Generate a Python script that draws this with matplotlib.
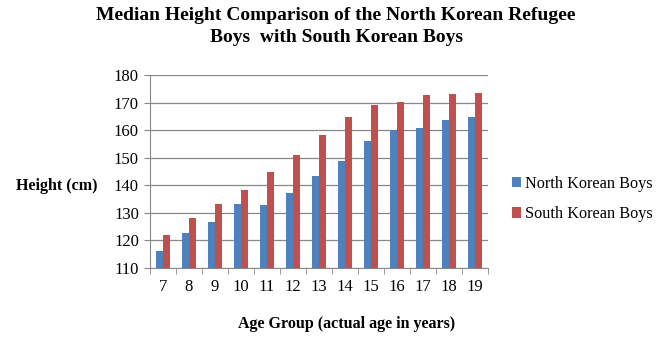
import matplotlib
matplotlib.use('Agg')
import matplotlib.pyplot as plt
import numpy as np


ages = ['7', '8', '9', '10', '11', '12', '13', '14', '15', '16', '17', '18', '19']
north_korean = [116.0, 122.8, 126.8, 133.3, 132.9, 137.3, 143.4, 148.7, 156.2, 160.1, 160.6, 163.5, 164.8]
south_korean = [122.1, 128.0, 133.3, 138.2, 144.9, 150.9, 158.3, 164.8, 169.3, 170.2, 172.7, 173.0, 173.4]

plt.rcParams['font.family'] = ['Liberation Serif', 'DejaVu Serif']

fig = plt.figure(figsize=(6.67, 3.38), dpi=100)
ax = fig.add_axes([150/667, 1-268/338, (488-150)/667, (268-75)/338])

x = np.arange(len(ages))
w = 0.286
ax.bar(x - w/2, north_korean, w, color='#4F81BD', label='North Korean Boys', zorder=3)
ax.bar(x + w/2, south_korean, w, color='#C0504D', label='South Korean Boys', zorder=3)

ax.set_ylim(110, 180)
ax.set_yticks(np.arange(110, 181, 10))
ax.set_xlim(-0.5, len(ages) - 0.5)
ax.set_xticks(x)
ax.set_xticklabels(ages)
ax.set_xticks(np.arange(-0.5, len(ages), 1), minor=True)
ax.tick_params(axis='x', which='major', length=0, pad=8, labelsize=12)
ax.tick_params(axis='x', which='minor', length=4, color='#888888', direction='out')
ax.tick_params(axis='y', length=4, color='#888888', labelsize=12, pad=4)

ax.grid(axis='y', color='#888888', linewidth=0.9, zorder=0)
for s in ['top', 'right']:
	ax.spines[s].set_visible(False)
for s in ['left', 'bottom']:
	ax.spines[s].set_color('#888888')

fig.text(336/667, 1-16/338, 'Median Height Comparison of the North Korean Refugee',
	ha='center', va='center', fontsize=14, fontweight='bold')
fig.text(336/667, 1-37/338, 'Boys  with South Korean Boys',
	ha='center', va='center', fontsize=14, fontweight='bold')
fig.text(57/667, 1-186/338, 'Height (cm)', ha='center', va='center', fontsize=11.5, fontweight='bold')
fig.text(347/667, 1-324/338, 'Age Group (actual age in years)', ha='center', va='center',
	fontsize=11.5, fontweight='bold')

fig.legend(loc='center left', bbox_to_anchor=(497/667, 1-199/338), frameon=False,
	fontsize=11.7, handlelength=0.6, handleheight=0.6, handletextpad=0.2, labelspacing=0.9)

plt.savefig('out.png', dpi=100)
